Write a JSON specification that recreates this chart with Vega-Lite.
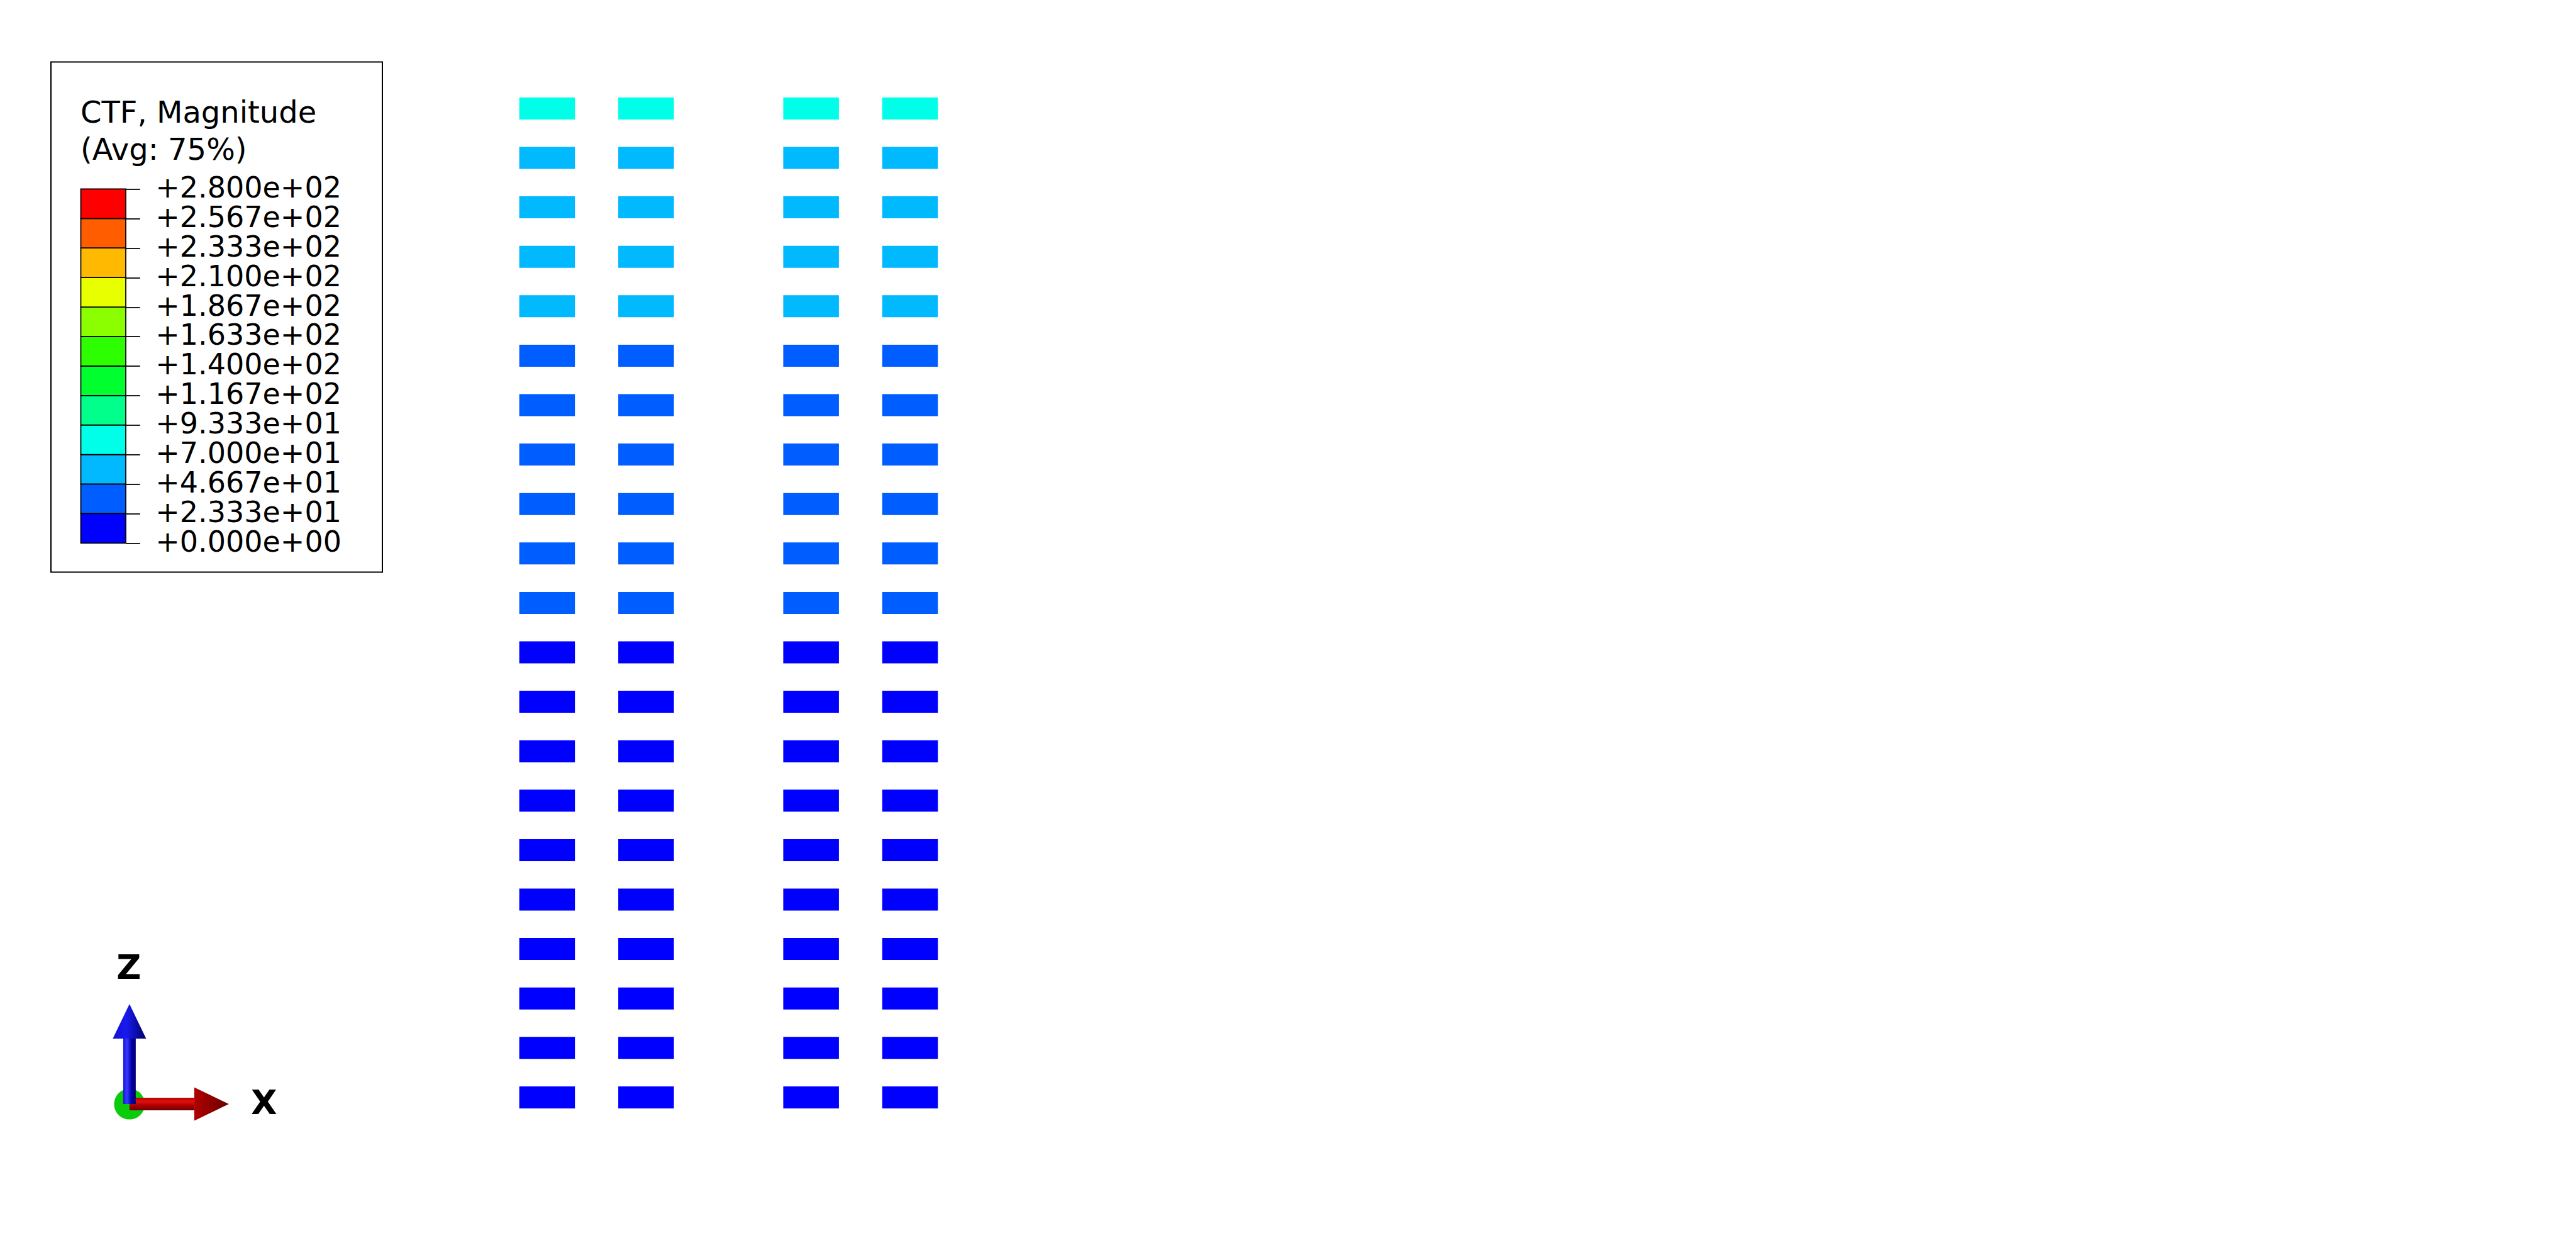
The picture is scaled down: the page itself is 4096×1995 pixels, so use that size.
{
  "$schema": "https://vega.github.io/schema/vega-lite/v6.json",
  "padding": {"left": 80, "top": 97.5, "right": 10, "bottom": 10},
  "background": "white",
  "config": {"view": {"stroke": null}, "font": "DejaVu Sans"},
  "datasets": {
    "bands": [
      {"lo": 0, "hi": 23.333}, {"lo": 23.333, "hi": 46.667}, {"lo": 46.667, "hi": 70},
      {"lo": 70, "hi": 93.333}, {"lo": 93.333, "hi": 116.667}, {"lo": 116.667, "hi": 140},
      {"lo": 140, "hi": 163.333}, {"lo": 163.333, "hi": 186.667}, {"lo": 186.667, "hi": 210},
      {"lo": 210, "hi": 233.333}, {"lo": 233.333, "hi": 256.667}, {"lo": 256.667, "hi": 280}
    ],
    "triad": [
      {"axis": "X", "ox": 0, "oz": 0, "ux": 1, "uz": 0},
      {"axis": "Z", "ox": 0, "oz": 0, "ux": 0, "uz": 1}
    ],
    "ctf": [
      {"x": 0, "z": 400, "ctf": 78}, {"x": 30, "z": 400, "ctf": 78}, {"x": 80, "z": 400, "ctf": 78}, {"x": 110, "z": 400, "ctf": 78},
      {"x": 0, "z": 380, "ctf": 64}, {"x": 30, "z": 380, "ctf": 64}, {"x": 80, "z": 380, "ctf": 64}, {"x": 110, "z": 380, "ctf": 64},
      {"x": 0, "z": 360, "ctf": 59}, {"x": 30, "z": 360, "ctf": 59}, {"x": 80, "z": 360, "ctf": 59}, {"x": 110, "z": 360, "ctf": 59},
      {"x": 0, "z": 340, "ctf": 55}, {"x": 30, "z": 340, "ctf": 55}, {"x": 80, "z": 340, "ctf": 55}, {"x": 110, "z": 340, "ctf": 55},
      {"x": 0, "z": 320, "ctf": 50}, {"x": 30, "z": 320, "ctf": 50}, {"x": 80, "z": 320, "ctf": 50}, {"x": 110, "z": 320, "ctf": 50},
      {"x": 0, "z": 300, "ctf": 44}, {"x": 30, "z": 300, "ctf": 44}, {"x": 80, "z": 300, "ctf": 44}, {"x": 110, "z": 300, "ctf": 44},
      {"x": 0, "z": 280, "ctf": 40}, {"x": 30, "z": 280, "ctf": 40}, {"x": 80, "z": 280, "ctf": 40}, {"x": 110, "z": 280, "ctf": 40},
      {"x": 0, "z": 260, "ctf": 36}, {"x": 30, "z": 260, "ctf": 36}, {"x": 80, "z": 260, "ctf": 36}, {"x": 110, "z": 260, "ctf": 36},
      {"x": 0, "z": 240, "ctf": 32}, {"x": 30, "z": 240, "ctf": 32}, {"x": 80, "z": 240, "ctf": 32}, {"x": 110, "z": 240, "ctf": 32},
      {"x": 0, "z": 220, "ctf": 28}, {"x": 30, "z": 220, "ctf": 28}, {"x": 80, "z": 220, "ctf": 28}, {"x": 110, "z": 220, "ctf": 28},
      {"x": 0, "z": 200, "ctf": 25}, {"x": 30, "z": 200, "ctf": 25}, {"x": 80, "z": 200, "ctf": 25}, {"x": 110, "z": 200, "ctf": 25},
      {"x": 0, "z": 180, "ctf": 22}, {"x": 30, "z": 180, "ctf": 22}, {"x": 80, "z": 180, "ctf": 22}, {"x": 110, "z": 180, "ctf": 22},
      {"x": 0, "z": 160, "ctf": 20}, {"x": 30, "z": 160, "ctf": 20}, {"x": 80, "z": 160, "ctf": 20}, {"x": 110, "z": 160, "ctf": 20},
      {"x": 0, "z": 140, "ctf": 18}, {"x": 30, "z": 140, "ctf": 18}, {"x": 80, "z": 140, "ctf": 18}, {"x": 110, "z": 140, "ctf": 18},
      {"x": 0, "z": 120, "ctf": 16}, {"x": 30, "z": 120, "ctf": 16}, {"x": 80, "z": 120, "ctf": 16}, {"x": 110, "z": 120, "ctf": 16},
      {"x": 0, "z": 100, "ctf": 14}, {"x": 30, "z": 100, "ctf": 14}, {"x": 80, "z": 100, "ctf": 14}, {"x": 110, "z": 100, "ctf": 14},
      {"x": 0, "z": 80, "ctf": 12}, {"x": 30, "z": 80, "ctf": 12}, {"x": 80, "z": 80, "ctf": 12}, {"x": 110, "z": 80, "ctf": 12},
      {"x": 0, "z": 60, "ctf": 10}, {"x": 30, "z": 60, "ctf": 10}, {"x": 80, "z": 60, "ctf": 10}, {"x": 110, "z": 60, "ctf": 10},
      {"x": 0, "z": 40, "ctf": 8}, {"x": 30, "z": 40, "ctf": 8}, {"x": 80, "z": 40, "ctf": 8}, {"x": 110, "z": 40, "ctf": 8},
      {"x": 0, "z": 20, "ctf": 6}, {"x": 30, "z": 20, "ctf": 6}, {"x": 80, "z": 20, "ctf": 6}, {"x": 110, "z": 20, "ctf": 6},
      {"x": 0, "z": 0, "ctf": 4}, {"x": 30, "z": 0, "ctf": 4}, {"x": 80, "z": 0, "ctf": 4}, {"x": 110, "z": 0, "ctf": 4}
    ]
  },
  "spacing": 156,
  "hconcat": [
    {
      "spacing": 595,
      "vconcat": [
        {
          "width": 527,
          "height": 811,
          "view": {"stroke": "black", "strokeWidth": 2},
          "title": {
            "text": ["CTF, Magnitude", "(Avg: 75%)"],
            "anchor": "start",
            "frame": "group",
            "orient": "bottom",
            "offset": -753,
            "dx": 47,
            "baseline": "top",
            "font": "DejaVu Sans",
            "fontSize": 48,
            "fontWeight": "normal",
            "color": "black",
            "lineHeight": 59
          },
          "data": {"name": "bands"},
          "mark": {"type": "rect", "stroke": "black", "strokeWidth": 1.75},
          "encoding": {
            "x": {"datum": 0, "type": "quantitative", "scale": {"domain": [0, 1], "range": [47.5, 119], "nice": false, "zero": false}, "axis": null},
            "x2": {"datum": 1},
            "y": {
              "field": "lo",
              "type": "quantitative",
              "scale": {"domain": [0, 280], "range": [764.8, 201.9], "nice": false, "zero": false},
              "axis": {
                "orient": "right",
                "offset": -408,
                "values": [0, 23.333, 46.667, 70, 93.333, 116.667, 140, 163.333, 186.667, 210, 233.333, 256.667, 280],
                "labelExpr": "replace(format(datum.value, '+.3e'), 'e+', 'e+0')",
                "domain": false,
                "grid": false,
                "ticks": true,
                "tickSize": 22.3,
                "tickColor": "black",
                "tickWidth": 1.75,
                "labelPadding": 24.5,
                "labelFont": "DejaVu Sans",
                "labelFontSize": 46,
                "labelColor": "black",
                "labelAlign": "left",
                "labelBaseline": "middle",
                "labelOffset": -1,
                "labelOverlap": false,
                "labelFlush": false,
                "labelBound": false,
                "labelLimit": 0,
                "title": null
              }
            },
            "y2": {"field": "hi"},
            "color": {
              "field": "lo",
              "type": "quantitative",
              "scale": {
                "type": "threshold",
                "domain": [23.333, 46.667, 70, 93.333, 116.667, 140, 163.333, 186.667, 210, 233.333, 256.667],
                "range": ["#0000FF", "#005DFF", "#00B9FF", "#00FFE8", "#00FF8B", "#00FF2E", "#2EFF00", "#8BFF00", "#E8FF00", "#FFB900", "#FF5D00", "#FF0000"]
              },
              "legend": null
            }
          }
        },
        {
          "width": 437,
          "height": 312,
          "data": {"name": "triad"},
          "layer": [
            {
              "transform": [{"filter": "datum.axis === 'X'"}],
              "mark": {"type": "point", "shape": "circle", "size": 2401, "filled": true, "fill": "#0ACC0A", "opacity": 1, "strokeWidth": 0},
              "encoding": {
                "x": {"field": "ox", "type": "quantitative", "scale": {"domain": [-0.8, 2], "nice": false, "zero": false}, "axis": null},
                "y": {"field": "oz", "type": "quantitative", "scale": {"domain": [-0.4, 1.6], "nice": false, "zero": false}, "axis": null}
              }
            },
            {
              "transform": [{"filter": "datum.axis === 'X'"}],
              "mark": {"type": "point", "shape": "M0,-1H10.3V1H0Z", "size": 400, "filled": true, "opacity": 1, "strokeWidth": 0,
                "fill": {"gradient": "linear", "x1": 0, "y1": 0, "x2": 0, "y2": 1, "stops": [{"offset": 0, "color": "#B80000"}, {"offset": 0.3, "color": "#E01010"}, {"offset": 0.6, "color": "#B00000"}, {"offset": 1, "color": "#6E0000"}]}},
              "encoding": {
                "x": {"field": "ox", "type": "quantitative", "axis": null},
                "y": {"field": "oz", "type": "quantitative", "axis": null}
              }
            },
            {
              "transform": [{"filter": "datum.axis === 'X'"}],
              "mark": {"type": "point", "shape": "M10.3,-2.65L15.8,0L10.3,2.65Z", "size": 400, "filled": true, "opacity": 1, "strokeWidth": 0,
                "fill": {"gradient": "linear", "x1": 0, "y1": 0, "x2": 1, "y2": 0, "stops": [{"offset": 0, "color": "#B00000"}, {"offset": 1, "color": "#6A0000"}]}},
              "encoding": {
                "x": {"field": "ox", "type": "quantitative", "axis": null},
                "y": {"field": "oz", "type": "quantitative", "axis": null}
              }
            },
            {
              "transform": [{"filter": "datum.axis === 'Z'"}],
              "mark": {"type": "point", "shape": "M-1,0V-10.4H1V0Z", "size": 400, "filled": true, "opacity": 1, "strokeWidth": 0,
                "fill": {"gradient": "linear", "x1": 0, "y1": 0, "x2": 1, "y2": 0, "stops": [{"offset": 0, "color": "#1414D8"}, {"offset": 0.3, "color": "#3A3AFF"}, {"offset": 0.65, "color": "#0000B0"}, {"offset": 1, "color": "#00006A"}]}},
              "encoding": {
                "x": {"field": "ox", "type": "quantitative", "axis": null},
                "y": {"field": "oz", "type": "quantitative", "axis": null}
              }
            },
            {
              "transform": [{"filter": "datum.axis === 'Z'"}],
              "mark": {"type": "point", "shape": "M-2.65,-10.4L0,-15.9L2.65,-10.4Z", "size": 400, "filled": true, "opacity": 1, "strokeWidth": 0,
                "fill": {"gradient": "linear", "x1": 0, "y1": 0, "x2": 1, "y2": 0, "stops": [{"offset": 0, "color": "#1010CC"}, {"offset": 0.4, "color": "#1A1AF0"}, {"offset": 1, "color": "#00006A"}]}},
              "encoding": {
                "x": {"field": "ox", "type": "quantitative", "axis": null},
                "y": {"field": "oz", "type": "quantitative", "axis": null}
              }
            },
            {
              "transform": [{"filter": "datum.axis === 'Z'"}],
              "mark": {"type": "text", "font": "DejaVu Sans", "fontWeight": "bold", "fontSize": 54, "align": "center", "baseline": "alphabetic", "dx": -1, "dy": -43.6, "color": "black"},
              "encoding": {
                "x": {"field": "ux", "type": "quantitative", "axis": null},
                "y": {"field": "uz", "type": "quantitative", "axis": null},
                "text": {"field": "axis"}
              }
            },
            {
              "transform": [{"filter": "datum.axis === 'X'"}],
              "mark": {"type": "text", "font": "DejaVu Sans", "fontWeight": "bold", "fontSize": 54, "align": "left", "baseline": "alphabetic", "dx": 37, "dy": 16, "color": "black"},
              "encoding": {
                "x": {"field": "ux", "type": "quantitative", "axis": null},
                "y": {"field": "uz", "type": "quantitative", "axis": null},
                "text": {"field": "axis"}
              }
            }
          ]
        }
      ]
    },
    {
      "width": 787,
      "height": 1730,
      "data": {"name": "ctf"},
      "mark": {"type": "tick", "orient": "horizontal", "size": 88.5, "thickness": 35, "opacity": 1},
      "encoding": {
        "x": {"field": "x", "type": "quantitative", "scale": {"domain": [-20, 130], "nice": false, "zero": false}, "axis": null},
        "y": {"field": "z", "type": "quantitative", "scale": {"domain": [-21.4, 418.8], "nice": false, "zero": false}, "axis": null},
        "color": {
          "field": "ctf",
          "type": "quantitative",
          "scale": {
            "type": "threshold",
            "domain": [23.333, 46.667, 70, 93.333, 116.667, 140, 163.333, 186.667, 210, 233.333, 256.667],
            "range": ["#0000FF", "#005DFF", "#00B9FF", "#00FFE8", "#00FF8B", "#00FF2E", "#2EFF00", "#8BFF00", "#E8FF00", "#FFB900", "#FF5D00", "#FF0000"]
          },
          "legend": null
        }
      }
    }
  ]
}
